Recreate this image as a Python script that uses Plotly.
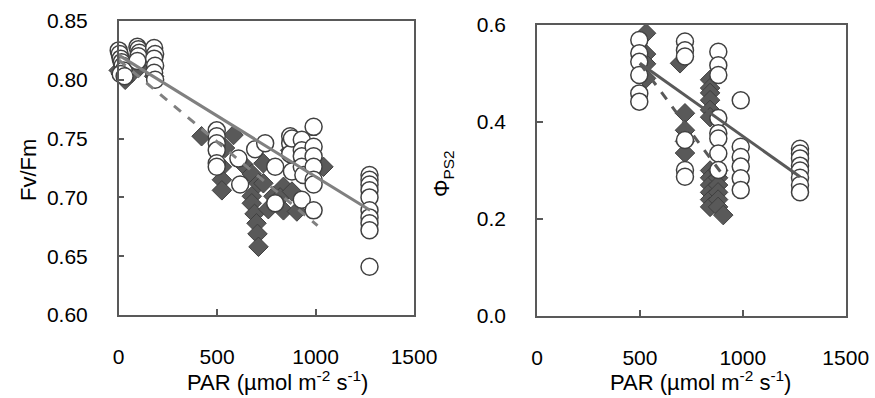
import plotly.graph_objects as go

# ---------------- Left panel: Fv/Fm ----------------
fvfm_circle_par = [0, 5, 10, 15, 20, 25, 10, 30,
                   95, 100, 105, 100, 95,
                   180, 185, 180, 185, 180, 185,
                   498, 498, 498, 498, 498, 498,
                   608, 617, 693, 744, 795, 795,
                   871, 871, 871, 880, 880,
                   930, 930, 930, 930, 930, 938,
                   990, 990, 990, 990, 990, 990, 990,
                   1274, 1274, 1274, 1274, 1274, 1274, 1274, 1274, 1274, 1274]
fvfm_circle_val = [0.825, 0.822, 0.818, 0.815, 0.812, 0.808, 0.805, 0.803,
                   0.828, 0.826, 0.823, 0.820, 0.816,
                   0.827, 0.822, 0.818, 0.812, 0.806, 0.800,
                   0.757, 0.752, 0.746, 0.740, 0.729, 0.726,
                   0.733, 0.711, 0.741, 0.746, 0.726, 0.695,
                   0.752, 0.746, 0.737, 0.750, 0.722,
                   0.749, 0.740, 0.735, 0.726, 0.698, 0.719,
                   0.760, 0.743, 0.735, 0.726, 0.715, 0.711, 0.689,
                   0.719, 0.715, 0.711, 0.706, 0.700, 0.689, 0.683, 0.678, 0.672, 0.641]

fvfm_diamond_par = [0, 10, 33, 68, 100, 180,
                    421, 583, 524, 524, 524, 540, 633,
                    676, 676, 676, 690, 700, 705, 710, 710,
                    735, 735, 786, 837, 837, 871, 905, 1040, 760, 820, 880]
fvfm_diamond_val = [0.808, 0.805, 0.800, 0.806, 0.810, 0.803,
                    0.752, 0.753, 0.726, 0.715, 0.706, 0.742, 0.728,
                    0.720, 0.701, 0.695, 0.686, 0.678, 0.669, 0.658, 0.712,
                    0.729, 0.712, 0.701, 0.709, 0.689, 0.740, 0.688, 0.726, 0.690, 0.700, 0.705]

fvfm_fit_circle_par = [0, 1277]
fvfm_fit_circle_val = [0.821, 0.689]
fvfm_fit_diamond_par = [0, 1010]
fvfm_fit_diamond_val = [0.817, 0.676]

# ---------------- Right panel: PhiPS2 ----------------
phi_circle_par = [497, 497, 497, 497, 497, 497,
                  719, 719, 719, 719, 719, 719,
                  881, 881, 881, 881, 881, 881, 881, 881,
                  990, 990, 990, 990, 990, 990,
                  1278, 1278, 1278, 1278, 1278, 1278, 1278, 1278]
phi_circle_val = [0.569, 0.542, 0.524, 0.497, 0.459, 0.442,
                  0.566, 0.548, 0.535, 0.363, 0.301, 0.287,
                  0.545, 0.517, 0.497, 0.408, 0.377, 0.366, 0.335, 0.301,
                  0.445, 0.349, 0.328, 0.308, 0.284, 0.260,
                  0.345, 0.335, 0.325, 0.310, 0.300, 0.285, 0.270, 0.255]

phi_diamond_par = [530, 530, 530, 530, 695, 719, 719, 719, 719,
                   841, 841, 841, 841, 841, 841,
                   841, 841, 841, 841, 841, 841,
                   880, 880, 880, 880, 880, 880, 905]
phi_diamond_val = [0.583, 0.540, 0.520, 0.490, 0.521, 0.418, 0.383, 0.360, 0.336,
                   0.487, 0.470, 0.460, 0.445, 0.425, 0.410,
                   0.300, 0.285, 0.270, 0.255, 0.240, 0.225,
                   0.300, 0.285, 0.270, 0.255, 0.240, 0.225, 0.208]

phi_fit_circle_par = [500, 1278]
phi_fit_circle_val = [0.521, 0.287]
phi_fit_diamond_par = [500, 897]
phi_fit_diamond_val = [0.521, 0.294]

FONT = "Liberation Sans, Arial, sans-serif"
AX = "#595959"

fig = go.Figure()

diamond_marker = dict(symbol="diamond", size=15, color="#595959",
                      line=dict(color="#404040", width=1))
circle_marker = dict(symbol="circle", size=17, color="white",
                     line=dict(color="#404040", width=1.5))

# left panel
fig.add_trace(go.Scatter(x=fvfm_diamond_par, y=fvfm_diamond_val, mode="markers",
                         marker=diamond_marker, xaxis="x", yaxis="y", showlegend=False,
                         cliponaxis=False))
fig.add_trace(go.Scatter(x=fvfm_circle_par, y=fvfm_circle_val, mode="markers",
                         marker=circle_marker, xaxis="x", yaxis="y", showlegend=False,
                         cliponaxis=False))
fig.add_trace(go.Scatter(x=fvfm_fit_diamond_par, y=fvfm_fit_diamond_val, mode="lines",
                         line=dict(color="#808080", width=3, dash="dash"),
                         xaxis="x", yaxis="y", showlegend=False))
fig.add_trace(go.Scatter(x=fvfm_fit_circle_par, y=fvfm_fit_circle_val, mode="lines",
                         line=dict(color="#808080", width=3),
                         xaxis="x", yaxis="y", showlegend=False))

# right panel
fig.add_trace(go.Scatter(x=phi_diamond_par, y=phi_diamond_val, mode="markers",
                         marker=diamond_marker, xaxis="x2", yaxis="y2", showlegend=False,
                         cliponaxis=False))
fig.add_trace(go.Scatter(x=phi_circle_par, y=phi_circle_val, mode="markers",
                         marker=circle_marker, xaxis="x2", yaxis="y2", showlegend=False,
                         cliponaxis=False))
fig.add_trace(go.Scatter(x=phi_fit_diamond_par, y=phi_fit_diamond_val, mode="lines",
                         line=dict(color="#595959", width=3, dash="dash"),
                         xaxis="x2", yaxis="y2", showlegend=False))
fig.add_trace(go.Scatter(x=phi_fit_circle_par, y=phi_fit_circle_val, mode="lines",
                         line=dict(color="#595959", width=3),
                         xaxis="x2", yaxis="y2", showlegend=False))

axis_common = dict(showgrid=False, zeroline=False, showline=True, linecolor=AX,
                   linewidth=1.5, mirror=True, ticks="inside", ticklen=6,
                   tickcolor=AX, tickwidth=1.5, automargin=False,
                   tickfont=dict(family=FONT, size=21, color="black"))

title_font = dict(family=FONT, size=22, color="black")

fig.update_layout(
    width=875, height=398,
    autosize=False,
    margin=dict(l=0, r=0, t=0, b=0, autoexpand=False),
    paper_bgcolor="white", plot_bgcolor="white",
    xaxis=dict(axis_common, domain=[118.7 / 875, 414 / 875], range=[0, 1500],
               tickvals=[0, 500, 1000, 1500], anchor="y", ticklabelstandoff=22),
    yaxis=dict(axis_common, domain=[1 - 315 / 398, 1 - 21 / 398], range=[0.60, 0.85],
               tickvals=[0.60, 0.65, 0.70, 0.75, 0.80, 0.85], tickformat=".2f",
               anchor="x", ticklabelstandoff=25),
    xaxis2=dict(axis_common, domain=[537 / 875, 845.7 / 875], range=[0, 1500],
                tickvals=[0, 500, 1000, 1500], anchor="y2", ticklabelstandoff=22),
    yaxis2=dict(axis_common, domain=[1 - 316 / 398, 1 - 25 / 398], range=[0, 0.6],
                tickvals=[0, 0.2, 0.4, 0.6], tickformat=".1f",
                anchor="x2", ticklabelstandoff=25),
    annotations=[
        dict(text="PAR (µmol m<sup>-2</sup> s<sup>-1</sup>)", x=277 / 875, y=1 - 381 / 398,
             xref="paper", yref="paper", showarrow=False,
             xanchor="center", yanchor="middle", font=title_font),
        dict(text="PAR (µmol m<sup>-2</sup> s<sup>-1</sup>)", x=700 / 875, y=1 - 381 / 398,
             xref="paper", yref="paper", showarrow=False,
             xanchor="center", yanchor="middle", font=title_font),
        dict(text="Fv/Fm", x=29 / 875, y=1 - 170 / 398, textangle=-90,
             xref="paper", yref="paper", showarrow=False,
             xanchor="center", yanchor="middle", font=title_font),
        dict(text="Φ<sub>PS2</sub>", x=443 / 875, y=1 - 174 / 398, textangle=-90,
             xref="paper", yref="paper", showarrow=False,
             xanchor="center", yanchor="middle", font=title_font),
    ],
)

fig.write_html("out.html", config={"displayModeBar": False},
               post_script="document.body.style.margin='0px';")
